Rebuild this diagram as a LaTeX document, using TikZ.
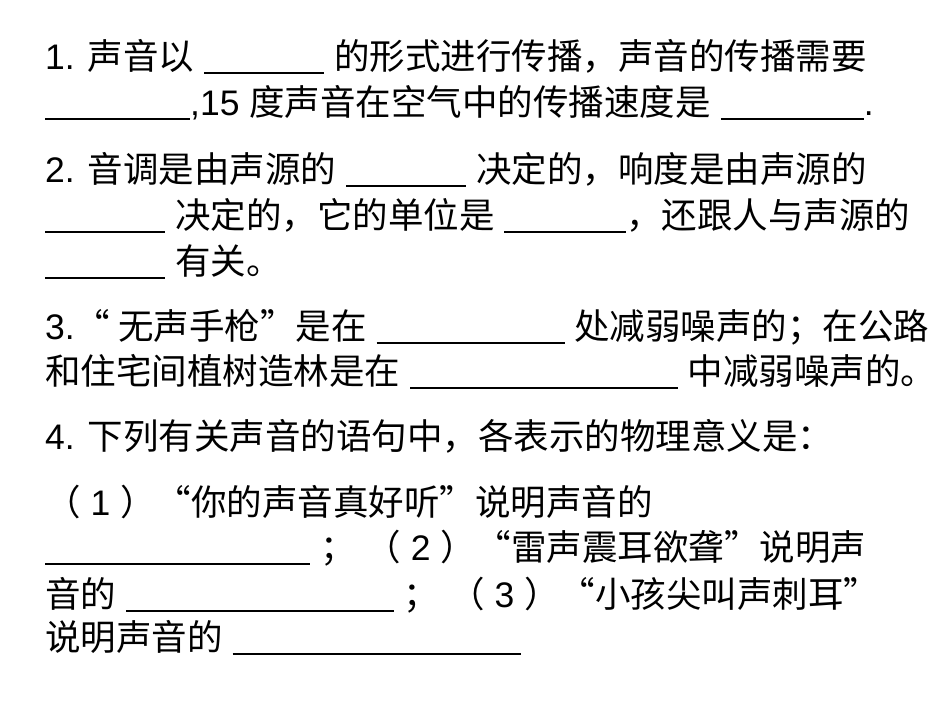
\documentclass[tikz,border=0pt]{standalone}
\usepackage{fontspec}
\setmainfont{Liberation Sans}
\newfontfamily\cjk{Noto Sans CJK SC}
\newcommand{\zh}[1]{{\cjk #1}}
\newcommand{\bl}[1]{\rule[-5pt]{#1pt}{2pt}}
\begin{document}
\begin{tikzpicture}[x=1pt,y=-1pt,
  ln/.style={anchor=base west,inner sep=0pt,font=\fontsize{35.5}{35.5}\selectfont}]
\fill[white] (0,0) rectangle (950,713);
\node[ln] (l1) at (45,69) {1. \zh{声音以} \bl{120} \zh{的形式进行传播，声音的传播需要}};
\node[ln] (l2) at (45,115) {\bl{145},15 \zh{度声音在空气中的传播速度是} \bl{143}.};
\node[ln] (l3) at (45,182) {2. \zh{音调是由声源的} \bl{120} \zh{决定的，响度是由声源的}};
\node[ln] (l4) at (45,228) {\bl{120} \zh{决定的，它的单位是} \bl{122}\zh{，还跟人与声源的}};
\node[ln] (l5) at (45,274) {\bl{120} \zh{有关。}};
\node[ln] (l6) at (45,339) {3.\zh{“ 无声手枪”是在} \bl{188} \zh{处减弱噪声的；在公路}};
\node[ln] (l7) at (45,384) {\zh{和住宅间植树造林是在} \bl{268} \zh{中减弱噪声的。}};
\node[ln] (l8) at (45,449) {4. \zh{下列有关声音的语句中，各表示的物理意义是：}};
\node[ln] (l9) at (45,515) {\zh{（} 1 \zh{）“你的声音真好听”说明声音的}};
\node[ln] (l10) at (45,560) {\bl{265} \zh{；} \zh{（} 2 \zh{）“雷声震耳欲聋”说明声}};
\node[ln] (l11) at (45,607) {\zh{音的} \bl{268} \zh{；} \zh{（} 3 \zh{）“小孩尖叫声刺耳”}};
\node[ln] (l12) at (45,650) {\zh{说明声音的} \bl{288}};
\end{tikzpicture}
\end{document}
